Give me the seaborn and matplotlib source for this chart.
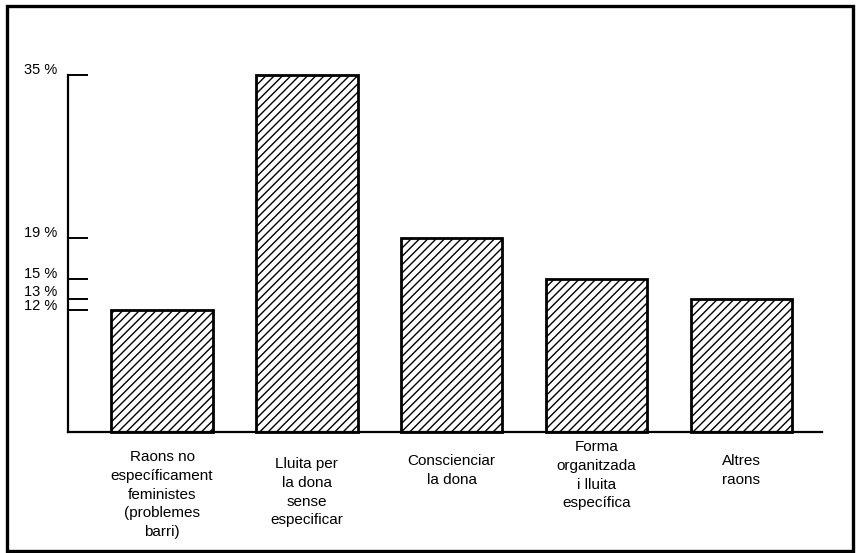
import matplotlib
matplotlib.use("Agg")
import matplotlib.pyplot as plt
import matplotlib.transforms as mtransforms
from matplotlib.patches import Rectangle
import seaborn as sns
import pandas as pd

categories = [
    "Raons no\nespecíficament\nfeministes\n(problemes\nbarri)",
    "Lluita per\nla dona\nsense\nespecificar",
    "Conscienciar\nla dona",
    "Forma\norganitzada\ni lluita\nespecífica",
    "Altres\nraons",
]
values = [12, 35, 19, 15, 13]
tick_values = [12, 13, 15, 19, 35]
tick_labels = ["12 %", "13 %", "15 %", "19 %", "35 %"]

sns.set_theme(style="white")
plt.rcParams["font.family"] = ["Liberation Sans", "DejaVu Sans"]
plt.rcParams["hatch.linewidth"] = 1.0

W, H = 859, 553
fig = plt.figure(figsize=(W / 100, H / 100), dpi=100)
ax = fig.add_axes([68 / W, (H - 432) / H, 754 / W, 357 / H])

df = pd.DataFrame({"cat": categories, "val": values})
sns.barplot(data=df, x="cat", y="val", color="white", edgecolor="black",
            linewidth=2.0, width=0.7, saturation=1, ax=ax)
for p in ax.patches:
    p.set_hatch("////")
    p.set_facecolor("white")
    p.set_edgecolor("black")
    p.set_clip_on(False)

ax.set_xlim(-0.649, 4.556)
ax.set_ylim(0, 35)
ax.set_xlabel("")
ax.set_ylabel("")

for s in ["top", "right"]:
    ax.spines[s].set_visible(False)
for s in ["left", "bottom"]:
    ax.spines[s].set_color("black")
    ax.spines[s].set_linewidth(1.6)

ax.set_yticks(tick_values)
ax.set_yticklabels(tick_labels, fontsize=10.5, color="black")
ax.tick_params(axis="y", direction="in", length=14.5, width=1.4, color="black",
               pad=8, left=True)
ylabel_shift = {"12 %": 5, "13 %": 9, "15 %": 7, "19 %": 7, "35 %": 7}
for lbl in ax.get_yticklabels():
    dy = ylabel_shift.get(lbl.get_text(), 7)
    lbl.set_transform(lbl.get_transform() +
                      mtransforms.ScaledTranslation(0, dy / 100, fig.dpi_scale_trans))

ax.tick_params(axis="x", length=0, pad=14)
ax.set_xticks(range(len(categories)))
ax.set_xticklabels(categories, fontsize=11, color="black", linespacing=1.42,
                   va="top", ha="center")
xlabel_shift = [1, -6, -3, 11, -3]
for lbl, dy in zip(ax.get_xticklabels(), xlabel_shift):
    lbl.set_transform(lbl.get_transform() +
                      mtransforms.ScaledTranslation(0, dy / 100, fig.dpi_scale_trans))

fig.patches.append(Rectangle((7 / W, (H - 551) / H), 846 / W, 545 / H,
                             transform=fig.transFigure, fill=False,
                             edgecolor="black", linewidth=2.4))

fig.savefig("out.png", dpi=100)
